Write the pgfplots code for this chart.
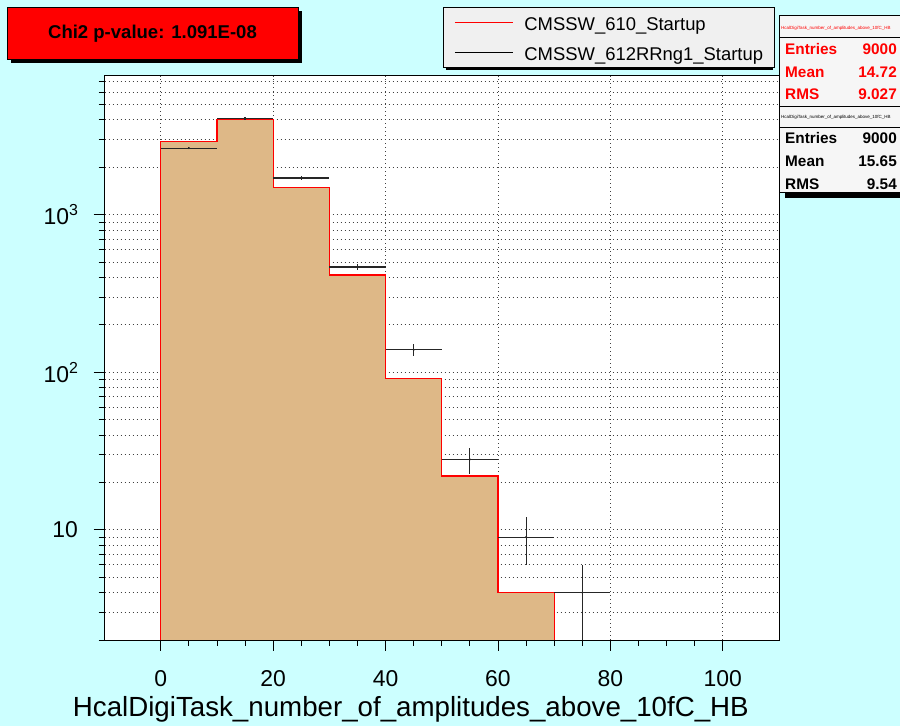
\documentclass[border=0pt]{standalone}
\usepackage{fontspec}
\setmainfont{Liberation Sans}
\usepackage{pgfplots}
\pgfplotsset{compat=1.18}
\definecolor{bgcyan}{RGB}{204,255,255}
\definecolor{burly}{RGB}{222,184,135}
\definecolor{legfill}{RGB}{240,240,240}
\definecolor{statfill}{RGB}{246,246,246}
\begin{document}
\begin{tikzpicture}
\useasboundingbox (0,0) rectangle (900bp,726bp);
\clip (0,0) rectangle (900bp,726bp);
\fill[bgcyan] (0,0) rectangle (900bp,726bp);
% legend shadow
\fill[black] (446bp,716bp) rectangle (773bp,656bp);
\begin{axis}[
  at={(104.5bp,86bp)}, anchor=south west,
  width=674.5bp, height=564.3bp, scale only axis,
  xmin=-10, xmax=110, ymode=log, ymin=2, ymax=7630,
  axis background/.style={fill=white},
  axis line style={black, line width=0.8bp},
  xtick={0,20,...,100}, minor x tick num=3,
  ytick={10,100,1000},
  yticklabels={10, 10\raisebox{9bp}{\fontsize{16}{16}\selectfont 2}, 10\raisebox{9bp}{\fontsize{16}{16}\selectfont 3}},
  minor ytick={2,3,...,9,20,30,...,90,200,300,...,900,2000,3000,...,7000},
  xtick pos=left, ytick pos=left,
  tick align=outside,
  major tick length=11bp, minor tick length=6bp,
  tick style={black, line width=0.8bp},
  xmajorgrids=true, ymajorgrids=true, yminorgrids=true,
  major grid style={black!75, line width=0.8bp, dash pattern=on 1bp off 3bp},
  minor grid style={black!75, line width=0.8bp, dash pattern=on 1bp off 3bp},
  /pgf/number format/assume math mode=true,
  ticklabel style={font=\fontsize{23}{26}\selectfont},
  xticklabel style={yshift=-16bp},
  yticklabel style={xshift=-12bp},
  xlabel={HcalDigiTask\_number\_of\_amplitudes\_above\_10fC\_HB},
  xlabel style={at={(axis description cs:-0.0471,-0.1347)}, anchor=base west, inner sep=0pt, font=\fontsize{27.8}{30}\selectfont},
  legend image code/.code={\draw[#1] (0bp,0bp) -- (58bp,0bp);},
  legend style={at={(axis description cs:0.5019,1.1218)}, anchor=north west,
    draw=black, fill=legfill, line width=0.8bp,
    inner xsep=11bp, inner ysep=0bp, column sep=11bp, row sep=0bp,
    font=\fontsize{18.5}{20}\selectfont,
    nodes={inner sep=0pt, text height=23bp, text depth=7bp},
    every even column/.style={text width=231bp}},
  legend cell align=left,
]
\addlegendimage{draw=red, line width=1bp}
\addlegendentry{CMSSW\_610\_Startup}
\addlegendimage{draw=black, line width=1bp}
\addlegendentry{CMSSW\_612RRng1\_Startup}
\addplot[const plot, draw=red, line width=1.2bp, fill=burly, forget plot]
  coordinates {(0,2930) (10,4040) (20,1495) (30,414) (40,91) (50,22) (60,4) (70,4)} \closedcycle;
\addplot[black!85, only marks, mark=*, mark size=0.8bp, forget plot,
  error bars/.cd, x dir=both, x explicit, y dir=both, y explicit, error mark=none,
  error bar style={line width=1.1bp, black!85}]
  table[x=x, y=y, x error=ex, y error=ey] {
x y ex ey
5 2650 5 51.5
15 4080 5 63.9
25 1710 5 41.4
35 466 5 21.6
45 139 5 11.8
55 28 5 5.3
65 9 5 3
75 4 5 2
};
\end{axis}
\begin{scope}[x=1bp,y=1bp]
% Chi2 box
\fill[black] (11,715) rectangle (302,663);
\filldraw[fill=red, draw=black, line width=0.8bp] (7,719) rectangle (298,667);
\node[font=\bfseries\fontsize{18.6}{20}\selectfont, anchor=base, inner sep=0pt] at (152.5,687) {Chi2 p-value: 1.091E-08};
% stats box 1
\filldraw[fill=statfill, draw=black, line width=0.8bp] (779.3,711) rectangle (910,620);
\draw[line width=0.8bp] (779.3,688.3) -- (910,688.3);
\node[anchor=west, red, font=\fontsize{4.5}{5}\selectfont, inner sep=0pt] at (781,698) {HcalDigiTask\_number\_of\_amplitudes\_above\_10fC\_HB};
\begin{scope}[every node/.style={inner sep=0pt, font=\bfseries\fontsize{15.4}{17}\selectfont, red}]
\node[anchor=base west] at (785,671) {Entries}; \node[anchor=base east] at (897,671) {9000};
\node[anchor=base west] at (785,648.3) {Mean}; \node[anchor=base east] at (897,648.3) {14.72};
\node[anchor=base west] at (785,626.7) {RMS}; \node[anchor=base east] at (897,626.7) {9.027};
\end{scope}
% stats box 2
\fill[black] (785,614) rectangle (916,528);
\filldraw[fill=statfill, draw=black, line width=0.8bp] (779.3,620) rectangle (910,534);
\draw[line width=0.8bp] (779.3,599) -- (910,599);
\node[anchor=west, black, font=\fontsize{4.5}{5}\selectfont, inner sep=0pt] at (781,609) {HcalDigiTask\_number\_of\_amplitudes\_above\_10fC\_HB};
\begin{scope}[every node/.style={inner sep=0pt, font=\bfseries\fontsize{15.4}{17}\selectfont, black}]
\node[anchor=base west] at (785,582.7) {Entries}; \node[anchor=base east] at (897,582.7) {9000};
\node[anchor=base west] at (785,559.3) {Mean}; \node[anchor=base east] at (897,559.3) {15.65};
\node[anchor=base west] at (785,536.7) {RMS}; \node[anchor=base east] at (897,536.7) {9.54};
\end{scope}
\end{scope}
\end{tikzpicture}
\end{document}
